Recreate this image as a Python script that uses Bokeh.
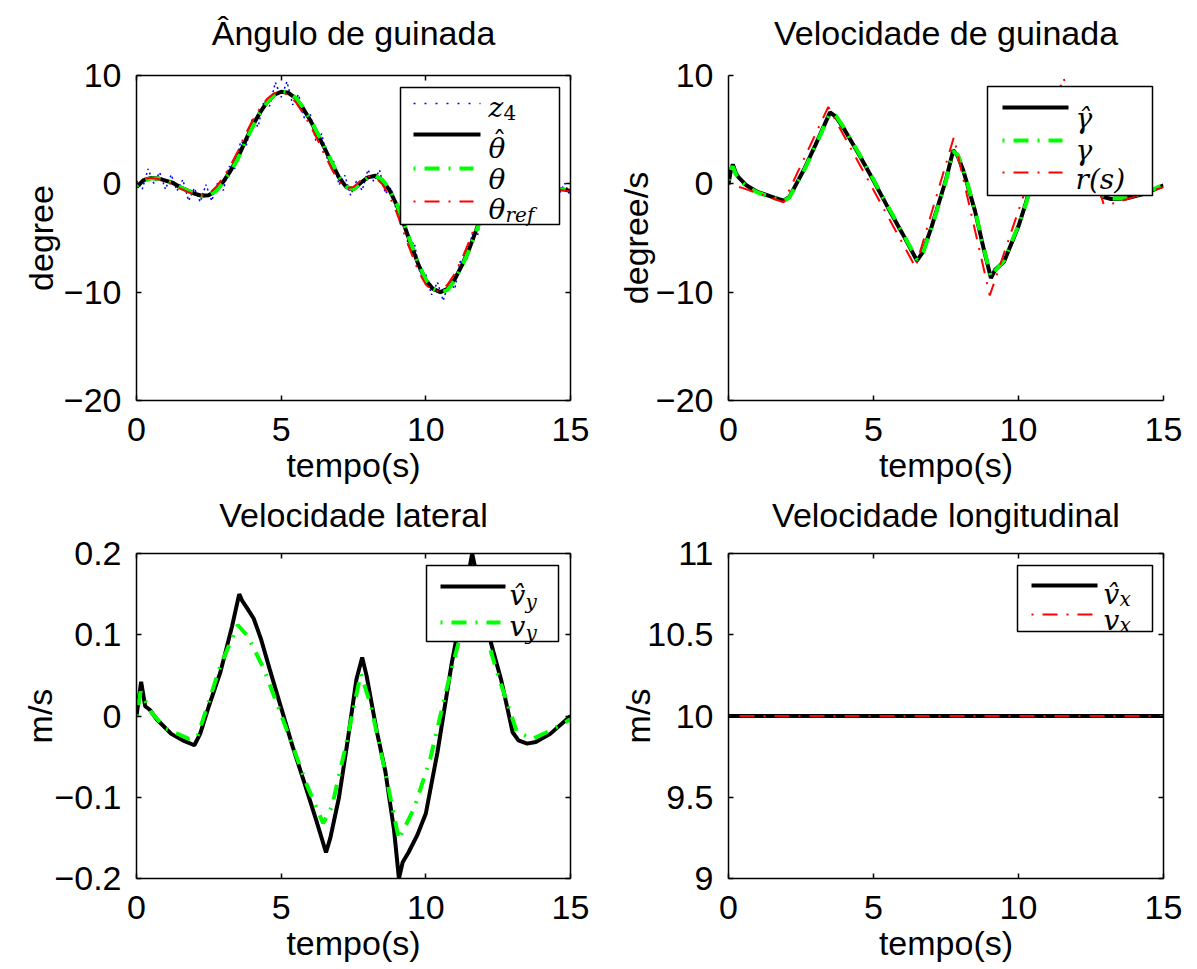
from bokeh.plotting import figure
from bokeh.layouts import column, row
from bokeh.models import LinearAxis, FixedTicker, Range1d, BoxAnnotation, Arrow, Label
from bokeh.embed import file_html
from bokeh.resources import INLINE

# ---------------- data ----------------
titles = ["Ângulo de guinada", "Velocidade de guinada", "Velocidade lateral", "Velocidade longitudinal"]
y_labels = ["degree", "degree/s", "m/s", "m/s"]
x_label = "tempo(s)"

x_ticks = [0, 5, 10, 15]
x_tick_labels = ["0", "5", "10", "15"]
yaw_ticks = [-20, -10, 0, 10]
yaw_tick_labels = ["−20", "−10", "0", "10"]
lat_ticks = [-0.2, -0.1, 0, 0.1, 0.2]
lat_tick_labels = ["−0.2", "−0.1", "0", "0.1", "0.2"]
lon_ticks = [9, 9.5, 10, 10.5, 11]
lon_tick_labels = ["9", "9.5", "10", "10.5", "11"]

# yaw angle (degree)
t_z4 = [0.0, 0.2, 0.4, 0.6, 0.8, 1.0, 1.2, 1.4, 1.6, 1.8, 2.0, 2.2, 2.4, 2.6, 2.8, 3.0, 3.2, 3.4, 3.6, 3.8,
        4.0, 4.2, 4.4, 4.6, 4.8, 5.0, 5.2, 5.4, 5.6, 5.8, 6.0, 6.2, 6.4, 6.6, 6.8, 7.0, 7.2, 7.4, 7.6, 7.8,
        8.0, 8.2, 8.4, 8.6, 8.8, 9.0, 9.2, 9.4, 9.6, 9.8, 10.0, 10.2, 10.4, 10.6, 10.8, 11.0, 11.2, 11.4, 11.6, 11.8,
        12.0, 12.2, 12.4, 12.6, 12.8, 13.0, 13.2, 13.4, 13.6, 13.8, 14.0, 14.2, 14.4, 14.6, 14.8, 15.0]
z4 = [0.3, -0.48, 1.37, 0.03, 1.06, -0.5, 0.84, -0.64, 0.38, -1.56,
      -0.4, -1.66, -0.08, -1.57, 0.06, -0.6, 1.6, 1.42, 3.9, 3.58,
      6.0, 5.26, 7.6, 7.18, 9.36, 8.0, 9.42, 7.3, 8.24, 6.08,
      6.5, 3.96, 4.62, 2.24, 2.24, -0.1, 0.78, -1.06, 0.24, -0.6,
      1.3, 0.22, 1.28, -0.9, -0.38, -2.7, -2.84, -5.74, -5.42, -8.28,
      -8.4, -10.24, -9.08, -10.78, -9.02, -9.7, -7.06, -7.1, -4.68, -4.66,
      -1.6, -1.96, -0.06, -0.8, 0.84, -0.2, 1.16, -0.18, 0.72, -0.64,
      0.6, -1.02, 0.16, -0.95, 0.05, -1.15]

t_theta = [0.0, 0.25, 0.5, 0.75, 1.0, 1.25, 1.5, 1.75, 2.0, 2.25, 2.5, 2.75, 3.0, 3.25, 3.5, 3.75,
           4.0, 4.25, 4.5, 4.75, 5.0, 5.25, 5.5, 5.75, 6.0, 6.25, 6.5, 6.75, 7.0, 7.25, 7.5, 7.75,
           8.0, 8.25, 8.5, 8.75, 9.0, 9.25, 9.5, 9.75, 10.0, 10.25, 10.5, 10.75, 11.0, 11.25, 11.5, 11.75,
           12.0, 12.25, 12.5, 12.75, 13.0, 13.5, 14.0, 14.5, 15.0]
theta_hat = [-0.3, 0.35, 0.55, 0.5, 0.3, 0.1, -0.3, -0.6, -0.9, -1.1, -1.05, -0.6, 0.2, 1.2, 2.4, 3.9,
             5.3, 6.5, 7.5, 8.2, 8.5, 8.4, 7.9, 7.0, 5.9, 4.6, 3.3, 1.9, 0.6, -0.3, -0.5, 0.1,
             0.6, 0.75, 0.3, -0.6, -2.0, -3.8, -5.7, -7.5, -8.9, -9.7, -10.0, -9.7, -8.8, -7.5, -6.0, -4.2,
             -2.5, -1.2, -0.3, 0.2, 0.4, 0.3, -0.1, -0.4, -0.65]
theta = [-0.2, 0.3, 0.5, 0.5, 0.3, 0.05, -0.3, -0.6, -0.95, -1.15, -1.1, -0.65, 0.15, 1.1, 2.3, 3.8,
         5.2, 6.45, 7.45, 8.2, 8.55, 8.45, 7.95, 7.1, 6.0, 4.7, 3.4, 2.0, 0.7, -0.25, -0.5, 0.05,
         0.55, 0.75, 0.35, -0.5, -1.9, -3.7, -5.6, -7.4, -8.85, -9.7, -10.05, -9.8, -8.9, -7.6, -6.1, -4.3,
         -2.6, -1.3, -0.35, 0.15, 0.4, 0.3, -0.1, -0.4, -0.65]
theta_ref = [0.0, 0.45, 0.55, 0.45, 0.22, -0.05, -0.42, -0.72, -1.0, -1.1, -0.9, -0.3, 0.6, 1.7, 3.0, 4.5,
             5.8, 6.9, 7.8, 8.35, 8.5, 8.2, 7.55, 6.55, 5.4, 4.1, 2.7, 1.35, 0.2, -0.4, -0.3, 0.3,
             0.7, 0.6, -0.05, -1.2, -2.7, -4.6, -6.4, -8.1, -9.3, -9.9, -9.9, -9.3, -8.3, -6.9, -5.3, -3.5,
             -1.9, -0.8, 0.0, 0.3, 0.4, 0.2, -0.2, -0.5, -0.7]

# yaw rate (degree/s)
t_gamma = [0.0, 0.08, 0.15, 0.25, 0.35, 0.6, 1.0, 1.5, 1.9, 2.1, 2.6, 3.0, 3.5, 3.7, 4.0, 4.5, 5.0, 5.5,
           6.0, 6.5, 6.7, 7.0, 7.5, 7.75, 7.9, 8.1, 8.5, 8.8, 9.05, 9.2, 9.5, 10.0, 10.25, 10.5, 11.0,
           11.6, 12.0, 12.5, 12.9, 13.2, 13.7, 14.3, 15.0]
gamma_hat = [0.0, 1.2, 1.8, 1.0, 0.6, -0.1, -0.75, -1.2, -1.55, -1.2, 1.3, 3.6, 6.6, 6.2, 5.0, 2.7, 0.3, -2.2,
             -4.6, -7.1, -6.3, -4.0, 0.4, 3.1, 2.6, 1.2, -2.5, -6.0, -8.7, -7.9, -7.2, -3.9, -1.8, 0.5, 4.5,
             8.6, 5.0, 1.0, -1.2, -1.4, -1.35, -0.95, -0.15]
gamma = [0.3, 1.4, 1.6, 0.9, 0.5, -0.2, -0.8, -1.25, -1.6, -1.25, 1.2, 3.5, 6.5, 6.3, 5.1, 2.8, 0.4, -2.1,
         -4.5, -7.0, -6.4, -4.1, 0.3, 3.0, 2.7, 1.3, -2.4, -5.9, -8.6, -8.0, -7.1, -3.8, -1.9, 0.4, 4.4,
         8.5, 5.1, 1.1, -1.1, -1.35, -1.3, -0.9, -0.1]
t_r = [0.0, 0.5, 1.9, 3.44, 6.45, 7.77, 9.01, 11.55, 12.94, 13.3, 15.0]
r_s = [0.0, -0.4, -1.7, 7.1, -7.7, 4.3, -10.3, 9.8, -1.9, -1.8, -0.3]

# lateral velocity (m/s)
t_vy_hat = [0.0, 0.16, 0.3, 0.45, 0.7, 1.2, 1.6, 2.0, 2.2, 2.5, 2.9, 3.3, 3.55, 3.65, 3.8, 4.05, 4.3, 4.6,
            5.0, 5.4, 5.8, 6.2, 6.55, 6.7, 7.0, 7.3, 7.6, 7.8, 7.95, 8.3, 8.6, 8.9, 9.07, 9.2, 9.4, 9.7,
            10.0, 10.4, 10.9, 11.3, 11.6, 11.9, 12.25, 12.6, 13.0, 13.2, 13.5, 13.8, 14.3, 15.0]
vy_hat = [0.0, 0.042, 0.012, 0.008, -0.004, -0.022, -0.03, -0.036, -0.022, 0.012, 0.054, 0.11, 0.15, 0.142,
          0.134, 0.12, 0.095, 0.058, 0.01, -0.038, -0.082, -0.127, -0.168, -0.15, -0.1, -0.03, 0.045, 0.072,
          0.05, -0.018, -0.068, -0.14, -0.2, -0.18, -0.168, -0.147, -0.12, -0.045, 0.066, 0.14, 0.2, 0.15,
          0.09, 0.045, -0.02, -0.03, -0.034, -0.032, -0.022, 0.0]
t_vy = [0.0, 0.14, 0.5, 1.0, 1.8, 2.1, 2.5, 2.9, 3.5, 3.85, 4.4, 5.1, 5.9, 6.45, 6.75, 7.2, 7.75, 8.1, 8.55,
        9.07, 9.6, 10.15, 10.75, 11.2, 11.6, 12.0, 12.45, 13.15, 13.7, 14.3, 15.0]
vy = [0.0, 0.03, 0.005, -0.015, -0.028, -0.026, 0.018, 0.062, 0.112, 0.098, 0.058, -0.008, -0.086, -0.132,
      -0.112, -0.042, 0.052, 0.013, -0.061, -0.152, -0.113, -0.053, 0.038, 0.1, 0.16, 0.11, 0.055, -0.02,
      -0.028, -0.018, -0.004]

# longitudinal velocity (m/s)
t_vx = [0.0, 15.0]
vx_hat = [10.0, 10.0]
vx = [10.0, 10.0]

# ---------------- styles ----------------
FONT = "Liberation Sans"
FS = "34px"
LEG_FONT = "DejaVu Serif"
LEG_FS = "28px"
SUB_FS = "20px"
BLACK = dict(line_color="black", line_width=4)
GREEN = dict(line_color="#00ff00", line_width=4, line_dash="2 9 15 9")
RED = dict(line_color="#ff0000", line_width=2, line_dash="2 9 15 9")
BLUE = dict(line_color="#0000ff", line_width=1.5, line_dash="2 3")
BLUE_LEG = dict(line_color="#0000ff", line_width=1.5, line_dash="2 9")


def style_axis(ax, labels=True):
    ax.axis_line_color = "black"
    ax.axis_line_width = 1.5
    ax.major_tick_line_color = "black"
    ax.major_tick_line_width = 1.5
    ax.major_tick_in = 5
    ax.major_tick_out = 0
    ax.minor_tick_line_color = None
    if labels:
        ax.major_label_text_font = FONT
        ax.major_label_text_font_size = FS
        ax.major_label_text_color = "black"
    else:
        ax.major_label_text_font_size = "1px"
        ax.major_label_standoff = 0


def label_font(ax):
    ax.axis_label_text_font = FONT
    ax.axis_label_text_font_size = FS
    ax.axis_label_text_font_style = "normal"
    ax.axis_label_text_color = "black"


def make_fig(title, ylabel, yticks, ylabs, yrange, width, height, bl, br, bt, bb,
             ylab_standoff, box, title_gap):
    p = figure(width=width, height=height, x_range=Range1d(0, 15), y_range=Range1d(*yrange),
               output_backend="svg", toolbar_location=None, tools="",
               min_border_left=bl, min_border_right=br, min_border_top=bt, min_border_bottom=bb,
               background_fill_color="white", border_fill_color="white")
    p.outline_line_color = None
    p.xgrid.visible = False
    p.ygrid.visible = False

    xa = p.xaxis[0]
    ya = p.yaxis[0]
    xa.ticker = FixedTicker(ticks=x_ticks, minor_ticks=[])
    xa.major_label_overrides = dict(zip(x_ticks, x_tick_labels))
    ya.ticker = FixedTicker(ticks=yticks, minor_ticks=[])
    ya.major_label_overrides = dict(zip(yticks, ylabs))
    style_axis(xa)
    style_axis(ya)
    xa.major_label_standoff = 17
    ya.major_label_standoff = 15
    xa.axis_label = x_label
    ya.axis_label = ylabel
    label_font(xa)
    label_font(ya)
    xa.axis_label_standoff = 2
    ya.axis_label_standoff = ylab_standoff

    # top axis: mirrored ticks (boxed panels) and the panel title
    top = LinearAxis(ticker=FixedTicker(ticks=x_ticks, minor_ticks=[]),
                     major_label_overrides={t: "" for t in x_ticks})
    style_axis(top, labels=False)
    if not box:
        top.axis_line_color = None
        top.major_tick_line_color = None
    top.axis_label = title
    label_font(top)
    top.axis_label_standoff = title_gap
    p.add_layout(top, "above")

    if box:
        right = LinearAxis(ticker=FixedTicker(ticks=yticks, minor_ticks=[]),
                           major_label_overrides={t: "" for t in yticks})
        style_axis(right, labels=False)
        p.add_layout(right, "right")
    return p


def add_legend(p, L, B, box, lines, texts):
    p.add_layout(BoxAnnotation(left=box[0] - L, right=box[2] - L, top=B - box[1], bottom=B - box[3],
                               left_units="screen", right_units="screen",
                               top_units="screen", bottom_units="screen",
                               fill_color="white", fill_alpha=1.0,
                               line_color="black", line_alpha=1.0, line_width=1.5))
    for x0, x1, y, style in lines:
        p.add_layout(Arrow(end=None, x_start=x0 - L, x_end=x1 - L, y_start=B - y, y_end=B - y,
                           start_units="screen", end_units="screen", **style))
    for txt, x, y, size, italic in texts:
        p.add_layout(Label(x=x - L, y=B - y, x_units="screen", y_units="screen", text=txt,
                           text_font=LEG_FONT, text_font_size=size,
                           text_font_style="italic" if italic else "normal",
                           text_baseline="alphabetic", text_align="left", text_color="black"))


# ---------------- figure 1: yaw angle ----------------
f1 = make_fig(titles[0], y_labels[0], yaw_ticks, yaw_tick_labels, (-20, 10),
              600, 492, 136, 30, 75, 92, 1, True, 24)
f1.line(t_z4, z4, **BLUE)
f1.line(t_theta, theta_hat, **BLACK)
f1.line(t_theta, theta, **GREEN)
f1.line(t_theta, theta_ref, **RED)
add_legend(f1, 136, 400, (400, 87, 559, 224),
           [(413, 480, 103, BLUE_LEG), (413, 480, 134, BLACK), (413, 473, 168, GREEN), (413, 473, 201, RED)],
           [("z", 488, 107, LEG_FS, True), ("4", 503, 112, SUB_FS, False),
            ("\u03b8", 488, 148, LEG_FS, True), ("\u02c6", 492, 141, LEG_FS, False),
            ("\u03b8", 488, 179, LEG_FS, True),
            ("\u03b8", 488, 209, LEG_FS, True), ("ref", 505, 214, SUB_FS, True)])

# ---------------- figure 2: yaw rate ----------------
f2 = make_fig(titles[1], y_labels[1], yaw_ticks, yaw_tick_labels, (-20, 10),
              583, 492, 128, 20, 75, 92, -2, False, 24)
f2.line(t_gamma, gamma_hat, **BLACK)
f2.line(t_gamma, gamma, **GREEN)
f2.line(t_r, r_s, **RED)
add_legend(f2, 728, 400, (987, 86, 1152, 195),
           [(1002, 1068, 107, BLACK), (1002, 1062, 140, GREEN), (1002, 1062, 172, RED)],
           [("\u03b3\u0302", 1075, 118, LEG_FS, True), ("\u03b3", 1075, 150, LEG_FS, True),
            ("r(s)", 1075, 179, LEG_FS, True)])

# ---------------- figure 3: lateral velocity ----------------
f3 = make_fig(titles[2], y_labels[2], lat_ticks, lat_tick_labels, (-0.2, 0.2),
              600, 476, 136, 30, 61, 90, -8, True, 20)
f3.line(t_vy_hat, vy_hat, **BLACK)
f3.line(t_vy, vy, **GREEN)
add_legend(f3, 136, 878, (426, 565, 558, 641),
           [(440, 505, 586, BLACK), (440, 500, 622, GREEN)],
           [("v\u0302", 509, 595, LEG_FS, True), ("y", 525, 601, SUB_FS, True),
            ("v", 509, 626, LEG_FS, True), ("y", 525, 632, SUB_FS, True)])

# ---------------- figure 4: longitudinal velocity ----------------
f4 = make_fig(titles[3], y_labels[3], lon_ticks, lon_tick_labels, (9, 11),
              583, 476, 128, 20, 61, 90, -13, True, 20)
f4.line(t_vx, vx_hat, **BLACK)
f4.line(t_vx, vx, **RED)
add_legend(f4, 728, 878, (1017, 565, 1152, 631),
           [(1031, 1097, 585, BLACK), (1031, 1092, 614, RED)],
           [("v\u0302", 1103, 594, LEG_FS, True), ("x", 1119, 598, SUB_FS, True),
            ("v", 1103, 620, LEG_FS, True), ("x", 1119, 624, SUB_FS, True)])

layout = column(row(f1, f2), row(f3, f4))
open("out.html", "w").write(file_html(layout, INLINE, "Guinada"))
